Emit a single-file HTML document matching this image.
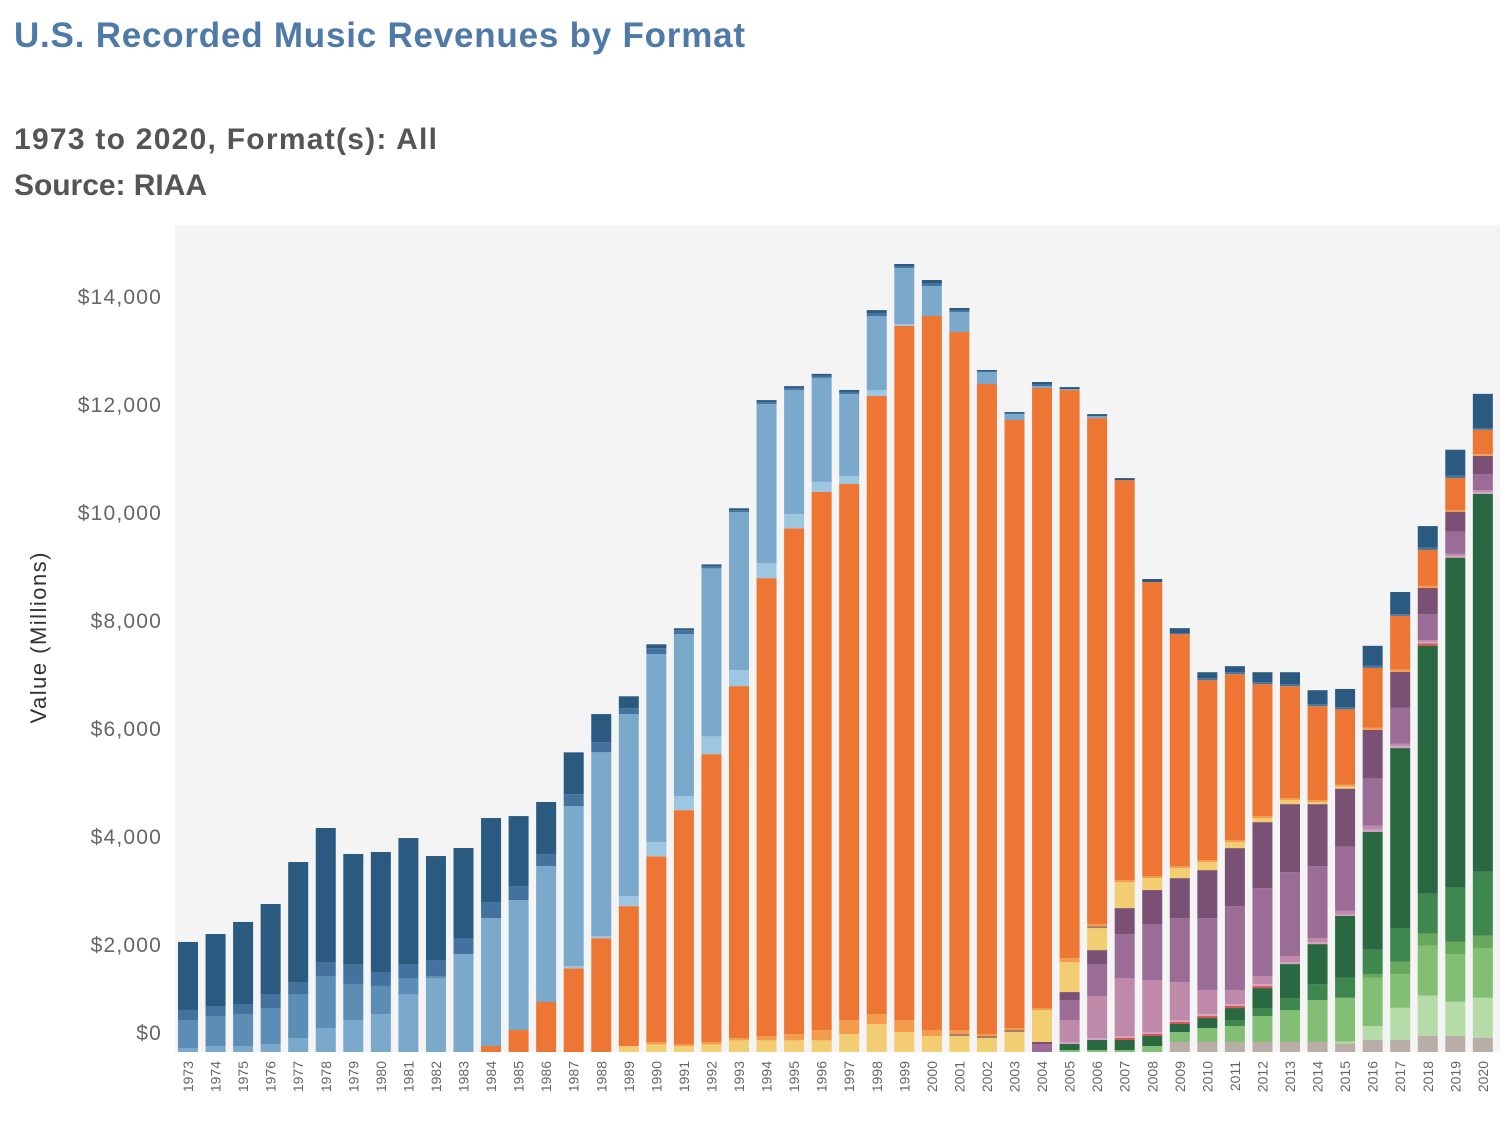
<!DOCTYPE html>
<html><head><meta charset="utf-8"><style>
html,body{margin:0;padding:0;background:#fff;}
body{width:1508px;height:1134px;overflow:hidden;font-family:"Liberation Sans",sans-serif;}
</style></head><body>
<svg id="chart" width="1508" height="1134" xmlns="http://www.w3.org/2000/svg">
<text x="14" y="47" font-size="35" font-weight="bold" fill="#4f7aa8" font-family="Liberation Sans, sans-serif" textLength="731" lengthAdjust="spacing">U.S. Recorded Music Revenues by Format</text>
<text x="14" y="149" font-size="30" font-weight="bold" fill="#555" font-family="Liberation Sans, sans-serif" textLength="423" lengthAdjust="spacing">1973 to 2020, Format(s): All</text>
<text x="14" y="195" font-size="30" font-weight="bold" fill="#555" font-family="Liberation Sans, sans-serif" textLength="193" lengthAdjust="spacing">Source: RIAA</text>
<rect x="175" y="225" width="1325" height="827" fill="#f4f4f4"/>
<text transform="translate(46,638) rotate(-90)" text-anchor="middle" font-size="22" fill="#333" font-family="Liberation Sans, sans-serif" textLength="171" lengthAdjust="spacing">Value (Millions)</text>
<g id="bars"></g><g id="yticks"></g><g id="xticks"></g>
</svg>
<script>
const years = [1973,1974,1975,1976,1977,1978,1979,1980,1981,1982,1983,1984,1985,1986,1987,1988,1989,1990,1991,1992,1993,1994,1995,1996,1997,1998,1999,2000,2001,2002,2003,2004,2005,2006,2007,2008,2009,2010,2011,2012,2013,2014,2015,2016,2017,2018,2019,2020];
const yTicks = [0,2000,4000,6000,8000,10000,12000,14000];
const yTickLabels = ["$0","$2,000","$4,000","$6,000","$8,000","$10,000","$12,000","$14,000"];
const synch =        [0,0,0,0,0,0,0,0,0,0,0,0,0,0,0,0,0,0,0,0,0,0,0,0,0,0,0,0,0,0,0,0,0,0,0,0,185,185,185,185,185,185,161,225,225,297,297,265];
const limitedTier =  [0,0,0,0,0,0,0,0,0,0,0,0,0,0,0,0,0,0,0,0,0,0,0,0,0,0,0,0,0,0,0,0,0,0,0,0,0,0,0,0,0,0,32,257,594,747,634,739];
const soundExchange= [0,0,0,0,0,0,0,0,0,0,0,0,0,0,0,0,0,0,0,0,0,0,0,0,0,0,0,0,0,0,0,0,37,37,37,111,185,259,296,481,592,777,811,891,626,923,883,923];
const otherAd =      [0,0,0,0,0,0,0,0,0,0,0,0,0,0,0,0,0,0,0,0,0,0,0,0,0,0,0,0,0,0,0,0,0,0,0,0,0,0,0,0,0,0,0,72,225,225,225,225];
const onDemandAd =   [0,0,0,0,0,0,0,0,0,0,0,0,0,0,0,0,0,0,0,0,0,0,0,0,0,0,0,0,0,0,0,0,0,0,0,0,0,0,111,148,222,296,369,450,626,739,1004,1188];
const paidSub =      [0,0,0,0,0,0,0,0,0,0,0,0,0,0,0,0,0,0,0,0,0,0,0,0,0,0,0,0,0,0,0,0,111,185,185,185,148,185,222,370,629,740,1148,2184,3332,4593,6111,6994];
const dlVideo =      [0,0,0,0,0,0,0,0,0,0,0,0,0,0,0,0,0,0,0,0,0,0,0,0,0,0,0,0,0,0,0,0,0,0,37,37,37,37,37,37,0,0,0,0,0,40,0,0];
const kiosk =        [0,0,0,0,0,0,0,0,0,0,0,0,0,0,0,0,0,0,0,0,0,0,0,0,0,0,0,0,0,0,0,0,37,37,37,37,37,37,37,37,37,37,20,40,40,32,40,40];
const ringtones =    [0,0,0,0,0,0,0,0,0,0,0,0,0,0,0,0,0,0,0,0,0,0,0,0,0,0,0,0,0,0,0,0,407,777,1074,963,703,444,259,148,111,74,72,72,40,32,32,32];
const dlSingle =     [0,0,0,0,0,0,0,0,0,0,0,0,0,0,0,0,0,0,0,0,0,0,0,0,0,0,0,0,0,0,0,148,370,592,814,1037,1185,1333,1555,1629,1555,1333,1188,883,666,482,410,297];
const dlAlbum =      [0,0,0,0,0,0,0,0,0,0,0,0,0,0,0,0,0,0,0,0,0,0,0,0,0,0,0,0,0,0,0,37,148,259,481,629,740,888,1074,1222,1259,1148,1076,891,666,482,369,337];
const musicVideo =   [0,0,0,0,0,0,0,0,0,0,0,0,0,0,0,0,108,141,108,141,216,216,216,216,333,518,370,296,296,259,370,592,555,407,481,222,185,148,111,74,74,37,40,0,0,0,0,0];
const dvdAudio =     [0,0,0,0,0,0,0,0,0,0,0,0,0,0,0,0,0,0,0,0,0,0,0,0,0,0,0,0,37,37,37,0,0,37,0,0,0,0,0,0,0,0,0,0,0,0,0,0];
const cdSingle =     [0,0,0,0,0,0,0,0,0,0,0,0,0,0,0,0,0,40,34,40,40,74,114,189,259,185,222,111,74,37,37,37,74,37,37,37,37,37,37,37,37,37,32,40,40,40,32,32];
const cd =           [0,0,0,0,0,0,0,0,0,0,0,111,407,926,1549,2108,2593,3442,4337,5334,6520,8486,9368,9968,9927,11445,12853,13223,12927,12038,11260,11482,10519,9371,7408,5445,4297,3332,3073,2443,2073,1740,1397,1108,996,666,594,450];
const cassSingle =   [0,0,0,0,0,0,0,0,0,0,0,0,0,0,40,34,182,263,256,330,296,278,263,185,148,111,37,0,0,0,0,0,0,0,0,0,0,0,0,0,0,0,0,0,0,0,0,0];
const cassette =     [74,111,111,148,259,444,593,704,1074,1370,1815,2370,2407,2519,2963,3408,3374,3482,3004,3111,2923,2944,2296,1926,1519,1370,1037,556,370,222,111,37,18,37,0,0,0,0,0,0,0,0,0,0,0,0,0,0];
const eightTrack =   [519,556,593,667,815,963,667,519,296,37,0,0,0,0,0,0,0,0,0,0,0,0,0,0,0,0,0,0,0,0,0,0,0,0,0,0,0,0,0,0,0,0,0,0,0,0,0,0];
const vinylSingle =  [185,185,185,259,222,259,370,259,259,296,296,296,259,222,222,189,108,108,74,40,40,37,37,37,37,55,37,55,37,18,18,37,0,0,0,0,20,37,37,37,37,37,40,40,32,40,40,32];
const lpEp =         [1260,1333,1519,1667,2222,2482,2037,2222,2333,1926,1667,1556,1296,963,775,519,222,74,34,34,34,37,37,37,37,55,37,55,37,18,18,37,37,37,37,56,90,111,111,185,222,259,337,369,410,401,482,634];
const seriesList = [
 ['synch',synch,'#b8aea7'],['limited-tier',limitedTier,'#b5dca8'],['soundexchange',soundExchange,'#82bf74'],
 ['other-ad-supported',otherAd,'#67a85c'],['on-demand-ad-supported',onDemandAd,'#3e8850'],['paid-subscription',paidSub,'#2a6842'],
 ['download-music-video',dlVideo,'#d9534f'],['kiosk',kiosk,'#d5a2c4'],['ringtones',ringtones,'#bf89aa'],
 ['download-single',dlSingle,'#9a6c96'],['download-album',dlAlbum,'#7b5075'],['music-video',musicVideo,'#f2cd72'],
 ['dvd-audio',dvdAudio,'#a57d68'],['cd-single',cdSingle,'#f49c4c'],['cd',cd,'#ed7634'],
 ['cassette-single',cassSingle,'#9dc7e0'],['cassette',cassette,'#7aa9cc'],['8-track',eightTrack,'#5b8db5'],
 ['vinyl-single',vinylSingle,'#44729e'],['lp-ep',lpEp,'#2a5a80']
];
const NS='http://www.w3.org/2000/svg';
const y0=1052, k=0.054, x0=188, step=27.55, bw=20;
function yScale(v){return y0 - v*k;}
function xScale(i){return x0 + i*step;}
const gb=document.getElementById('bars');
years.forEach((yr,i)=>{
  let acc=0;
  seriesList.forEach(s=>{
    const v=s[1][i]; if(!v) return;
    const r=document.createElementNS(NS,'rect');
    r.setAttribute('x',xScale(i)-bw/2);
    r.setAttribute('y',yScale(acc+v));
    r.setAttribute('width',bw);
    r.setAttribute('height',yScale(acc)-yScale(acc+v));
    r.setAttribute('fill',s[2]);
    
    
    gb.appendChild(r);
    acc+=v;
  });
});
const gy=document.getElementById('yticks');
yTicks.forEach((t,i)=>{
  const tx=document.createElementNS(NS,'text');
  tx.setAttribute('x',162);
  tx.setAttribute('y',yScale(t)+8-(t===0?20:0));
  tx.setAttribute('text-anchor','end');
  tx.setAttribute('font-size','21');
  tx.setAttribute('letter-spacing','1.2');
  tx.setAttribute('fill','#666');
  tx.setAttribute('font-family','Liberation Sans, sans-serif');
  tx.textContent=yTickLabels[i];
  
  
  gy.appendChild(tx);
});
const gx=document.getElementById('xticks');
years.forEach((yr,i)=>{
  const tx=document.createElementNS(NS,'text');
  const cx=xScale(i)+5;
  tx.setAttribute('transform','translate('+cx+',1061) rotate(-90)');
  tx.setAttribute('text-anchor','end');
  tx.setAttribute('font-size','14');
  tx.setAttribute('fill','#666');
  tx.setAttribute('font-family','Liberation Sans, sans-serif');
  tx.textContent=yr;
  
  
  gx.appendChild(tx);
});
</script>
</body></html>
